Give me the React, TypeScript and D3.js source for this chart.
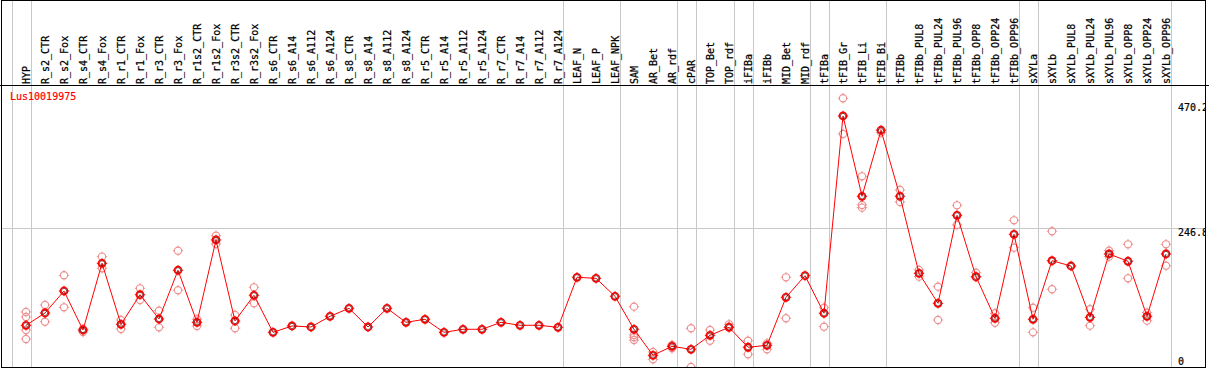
import React from 'react';
import * as d3 from 'd3';

const geneId = 'Lus10019975';

const categories = [
  'HYP', 'R_s2_CTR', 'R_s2_Fox', 'R_s4_CTR', 'R_s4_Fox', 'R_r1_CTR', 'R_r1_Fox', 'R_r3_CTR', 'R_r3_Fox',
  'R_r1s2_CTR', 'R_r1s2_Fox', 'R_r3s2_CTR', 'R_r3s2_Fox', 'R_s6_CTR', 'R_s6_A14', 'R_s6_A112', 'R_s6_A124',
  'R_s8_CTR', 'R_s8_A14', 'R_s8_A112', 'R_s8_A124', 'R_r5_CTR', 'R_r5_A14', 'R_r5_A112', 'R_r5_A124',
  'R_r7_CTR', 'R_r7_A14', 'R_r7_A112', 'R_r7_A124', 'LEAF_N', 'LEAF_P', 'LEAF_NPK', 'SAM', 'AR_Bet', 'AR_rdf',
  'cPAR', 'TOP_Bet', 'TOP_rdf', 'iFIBa', 'iFIBb', 'MID_Bet', 'MID_rdf', 'tFIBa', 'tFIB_Gr', 'tFIB_Li', 'tFIB_Bi',
  'tFIBb', 'tFIBb_PUL8', 'tFIBb_PUL24', 'tFIBb_PUL96', 'tFIBb_OPP8', 'tFIBb_OPP24', 'tFIBb_OPP96', 'sXYLa',
  'sXYLb', 'sXYLb_PUL8', 'sXYLb_PUL24', 'sXYLb_PUL96', 'sXYLb_OPP8', 'sXYLb_OPP24', 'sXYLb_OPP96',
];

const means = [
  74.2, 96.1, 135.2, 65.8, 184.5, 76.0, 128.6, 85.4, 172.1, 79.5, 226.0, 81.9, 127.6,
  61.7, 73.0, 71.2, 90.2, 104.4, 71.2, 104.4, 79.5, 84.9, 61.7, 67.1, 67.1, 79.5, 74.2, 74.2, 70.6,
  159.6, 157.8, 125.8, 67.1, 20.8, 36.8, 31.5, 56.4, 70.6, 35.1, 38.6, 124.0, 162.5, 95.6,
  446.6, 303.7, 421.2, 303.7, 166.7, 113.3, 269.9, 160.7, 86.7, 236.1, 84.9, 189.1, 179.7, 88.4, 201.1, 188.1, 90.2, 201.1,
];

const replicates: number[][] = [
  [97.9, 89.0, 65.8, 49.8],
  [110.3, 80.6],
  [163.2, 106.2],
  [67.6, 62.3],
  [196.3, 175.6],
  [83.6, 67.6],
  [140.0, 119.2],
  [100.2, 70.6],
  [206.9, 136.5],
  [84.9, 73.0],
  [233.6, 218.9],
  [92.5, 68.9],
  [141.8, 113.3],
  [], [], [], [], [], [], [], [], [], [], [], [], [], [], [], [], [], [], [],
  [107.3, 56.9, 52.8, 48.0],
  [26.7, 13.7],
  [39.1, 33.3],
  [68.9, 0],
  [65.8, 46.8],
  [76.0, 71.7],
  [46.8, 22.6],
  [42.2, 31.5],
  [159.6, 86.7],
  [],
  [105.5, 71.7],
  [478.1, 414.6],
  [339.3, 288.3, 283.5],
  [416.9],
  [314.9, 293.6],
  [172.6, 160.7],
  [142.9, 83.6],
  [287.7, 252.7],
  [167.8, 159.6],
  [95.6, 78.8],
  [261.0, 212.3],
  [105.5, 61.7],
  [241.5, 138.3],
  [],
  [102.7, 73.5],
  [206.9, 196.3],
  [218.3, 157.8],
  [96.6, 82.4],
  [218.3, 180.2],
];

// group separators drawn after these category indices
const separatorsAfter = [-1, 0, 28, 31, 34, 35, 37, 38, 41, 42, 45, 52, 53, 60];
const axisTicks = [0, 246.8, 470.2];
const gridTicks = [246.8];

const W = 1209;
const H = 370;
const FONT = '"DejaVu Sans Mono", "Liberation Mono", monospace';

function Marker({ x, y, color, mean }: { x: number; y: number; color: string; mean?: boolean }) {
  const r = 3.6;
  const t = 1.6;
  return (
    <g>
      <circle cx={x} cy={y} r={r} fill="none" stroke={color} strokeWidth={mean ? 1.6 : 1.1} />
      {mean && <circle cx={x} cy={y} r={2.6} fill="none" stroke="#400000" strokeWidth={0.6} />}
      <line x1={x} x2={x} y1={y - r - t} y2={y - r + 0.5} stroke={color} strokeWidth={1} />
      <line x1={x} x2={x} y1={y + r - 0.5} y2={y + r + t} stroke={color} strokeWidth={1} />
      <line x1={x - r - t} x2={x - r + 0.5} y1={y} y2={y} stroke={color} strokeWidth={1} />
      <line x1={x + r - 0.5} x2={x + r + t} y1={y} y2={y} stroke={color} strokeWidth={1} />
    </g>
  );
}

export default function App() {
  const x = d3.scaleLinear().domain([0, categories.length - 1]).range([26, 1166]);
  const y = d3.scaleLinear().domain([0, 470.2]).range([367, 102.7]);
  const line = d3
    .line<number>()
    .x((_, i) => x(i))
    .y((d) => y(d));

  const left = 1.5;
  const right = 1205.5;
  const top = 0.5;
  const bottom = 367.5;
  const headerY = 85.5;

  return (
    <svg
      width={W}
      height={H}
      style={{ position: 'absolute', left: 0, top: 0, display: 'block', background: '#fff' }}
    >
      <defs>
        <clipPath id="frame">
          <rect x={left} y={top} width={right - left} height={bottom - top} />
        </clipPath>
      </defs>
      <rect x={0} y={0} width={W} height={H} fill="#fff" />
      <g clipPath="url(#frame)">
        {separatorsAfter.map((i) => (
          <line
            key={'s' + i}
            x1={Math.round(x(i) + 4.7) + 0.5}
            x2={Math.round(x(i) + 4.7) + 0.5}
            y1={0}
            y2={H}
            stroke="#c8c8c8"
            strokeWidth={1}
          />
        ))}
        {gridTicks.map((v) => (
          <line
            key={'g' + v}
            x1={0}
            x2={W}
            y1={Math.round(y(v)) + 0.5}
            y2={Math.round(y(v)) + 0.5}
            stroke="#c8c8c8"
            strokeWidth={1}
          />
        ))}
        {categories.map((c, i) => (
          <text
            key={c}
            transform={`translate(${x(i) + 3.5},84) rotate(-90)`}
            textAnchor="start"
            fontFamily={FONT}
            fontSize={10}
            fill="#000"
            stroke="#000"
            strokeWidth={0.25}
          >
            {c}
          </text>
        ))}
        <text x={10} y={100} fontFamily={FONT} fontSize={10} fill="#ff0000" stroke="#ff0000" strokeWidth={0.2}>
          {geneId}
        </text>
        {axisTicks.map((v) => (
          <text
            key={'t' + v}
            x={1178}
            y={v === 0 ? y(v) - 2 : y(v) + 8}
            fontFamily={FONT}
            fontSize={10}
            fill="#000"
            stroke="#000"
            strokeWidth={0.2}
          >
            {String(v)}
          </text>
        ))}
        {replicates.map((reps, i) =>
          reps.map((v, j) => <Marker key={`r${i}-${j}`} x={x(i)} y={y(v)} color="#ee9090" />)
        )}
        <path d={line(means) || ''} fill="none" stroke="#ff0000" strokeWidth={1} />
        {means.map((v, i) => (
          <Marker key={'m' + i} x={x(i)} y={y(v)} color="#ff0000" mean />
        ))}
      </g>
      <line x1={0} x2={W} y1={headerY} y2={headerY} stroke="#000" strokeWidth={1} />
      <rect x={left} y={top} width={right - left} height={bottom - top} fill="none" stroke="#000" strokeWidth={1} />
    </svg>
  );
}
